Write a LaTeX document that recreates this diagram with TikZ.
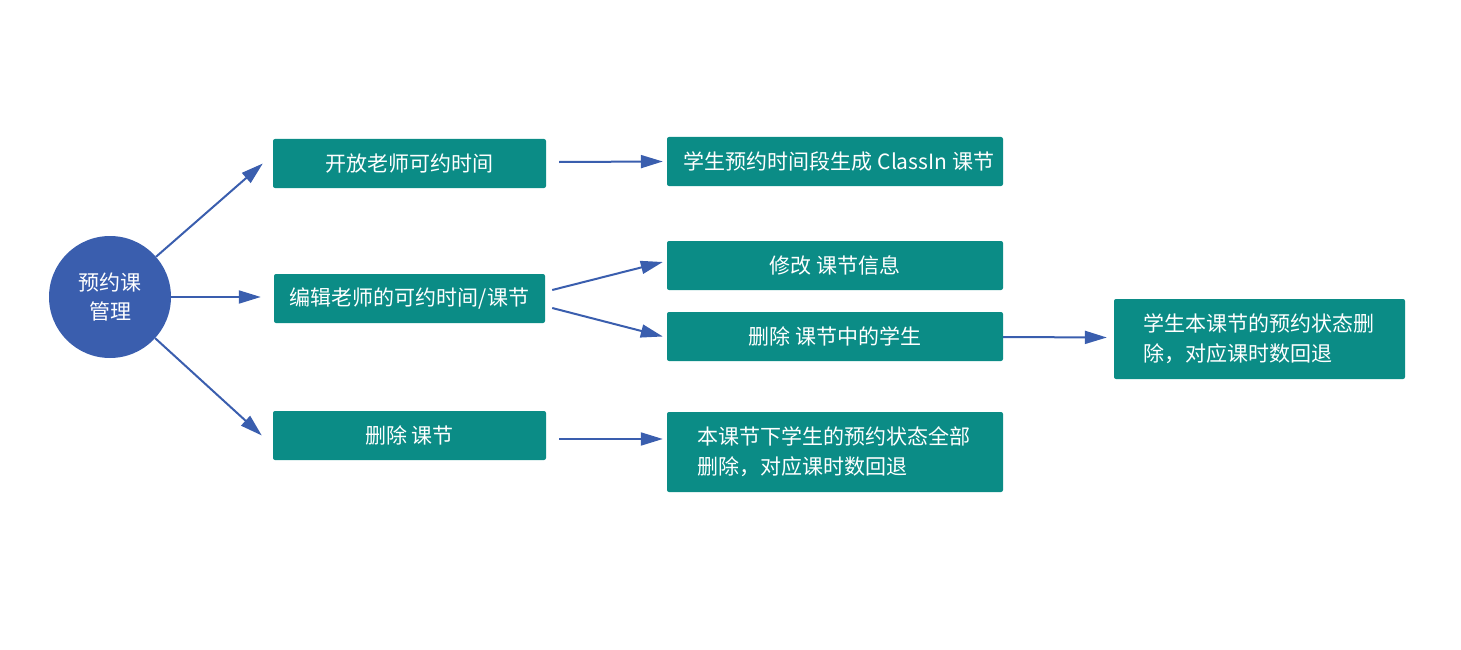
\documentclass[tikz,border=0pt]{standalone}
\usepackage{fontspec}
\newfontfamily\cjk{Noto Sans CJK SC}
\usetikzlibrary{arrows.meta}
\definecolor{teal}{HTML}{0B8C86}
\definecolor{myblue}{HTML}{3A5EAE}
\tikzset{
  box/.style={rectangle, fill=teal, rounded corners=2pt, text=white, font=\cjk\fontsize{21}{30}\selectfont, inner sep=0pt},
  hub/.style={circle, fill=myblue, text=white, font=\cjk\fontsize{21}{29}\selectfont, align=center, minimum size=122pt, inner sep=0pt},
  link/.style={draw=myblue, line width=2pt, -{Triangle[length=22pt,width=13pt]}}
}
\begin{document}
\begin{tikzpicture}[x=1pt,y=-1pt]
\useasboundingbox (0,0) rectangle (1461,650);
\node[hub] (c) at (110,297) {预约课\\管理};
\node[box, minimum width=273pt, minimum height=49pt] (b1) at (409.5,163.5) {开放老师可约时间};
\node[box, minimum width=271pt, minimum height=49pt] (b2) at (409.5,298.5) {编辑老师的可约时间/课节};
\node[box, minimum width=273pt, minimum height=49pt] (b3) at (409.5,435.5) {删除 课节};
\node[box, minimum width=336pt, minimum height=49pt] (b4) at (835,161.5) {\hspace*{8pt}学生预约时间段生成 ClassIn 课节};
\node[box, minimum width=336pt, minimum height=49pt] (b5) at (835,265.5) {修改 课节信息};
\node[box, minimum width=336pt, minimum height=49pt] (b6) at (835,336.5) {删除 课节中的学生};
\node[box, minimum width=336pt, minimum height=80pt, text width=276pt, inner xsep=30pt, align=left] (b7) at (835,452) {本课节下学生的预约状态全部\\删除，对应课时数回退};
\node[box, minimum width=291pt, minimum height=80pt, text width=233pt, inner xsep=29pt, align=left] (b8) at (1259.5,339) {学生本课节的预约状态删\\除，对应课时数回退};
\draw[link] (c) -- ([xshift=-10pt]b1.west);
\draw[link] (c.east) -- ([xshift=-13pt,yshift=1.5pt]b2.west);
\draw[link] (c) -- ([xshift=-11pt]b3.west);
\draw[link] ([xshift=13pt,yshift=1.5pt]b1.east) -- ([xshift=-4pt]b4.west);
\draw[link] ([xshift=7pt,yshift=8.5pt]b2.east) -- ([xshift=-4pt,yshift=3.5pt]b5.west);
\draw[link] ([xshift=7pt,yshift=-9.5pt]b2.east) -- ([xshift=-4pt]b6.west);
\draw[link] ([xshift=13pt,yshift=-3.5pt]b3.east) -- ([xshift=-4pt,yshift=13pt]b7.west);
\draw[link] ([yshift=-0.5pt]b6.east) -- ([xshift=-7pt,yshift=1.5pt]b8.west);
\end{tikzpicture}
\end{document}
